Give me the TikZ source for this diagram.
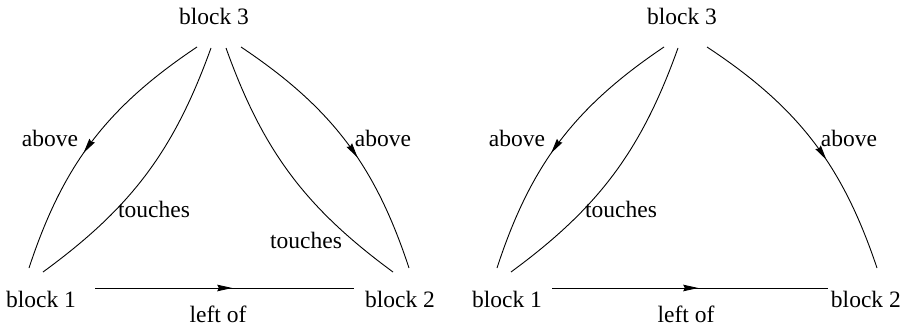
\documentclass[tikz,border=0pt]{standalone}
\usepackage{fontspec}
\setmainfont{Liberation Serif}
\usetikzlibrary{arrows.meta,decorations.markings}
\begin{document}
\begin{tikzpicture}[x=1pt,y=-1pt,
  lbl/.style={anchor=base,inner sep=0pt,font=\fontsize{23.5}{28}\selectfont},
  edge/.style={line width=0.9pt},
  midarrow/.style={postaction={decorate},decoration={markings,
     mark=at position #1 with {\arrow{Stealth[length=15pt,width=6.5pt,inset=1.5pt]}}}}]
\useasboundingbox (0,0) rectangle (901,329);
% ---------- left diagram ----------
\node[lbl] (Lb3) at (214,25) {block 3};
\node[lbl] (Lb1) at (41,307) {block 1};
\node[lbl] (Lb2) at (400,307) {block 2};
\node[lbl] (Llo) at (218,322) {left of};
\node[lbl] (LaL) at (50,146) {above};
\node[lbl] (LaR) at (383,146) {above};
\node[lbl] (LtL) at (154,217) {touches};
\node[lbl] (LtR) at (306,248) {touches};
\coordinate (L3a) at (197,47);
\coordinate (L3b) at (211,48);
\coordinate (L3c) at (226,48);
\coordinate (L3d) at (241,47);
\coordinate (L1a) at (29,268);
\coordinate (L1b) at (43,272);
\coordinate (L2a) at (393,272);
\coordinate (L2b) at (409,268);
\coordinate (L1e) at (95,288);
\coordinate (L2e) at (354,288);
\draw[edge,midarrow=0.55] (L3a) to[bend right=19] (L1a);
\draw[edge] (L3b) to[bend left=17] (L1b);
\draw[edge] (L3c) to[bend right=17] (L2a);
\draw[edge,midarrow=0.57] (L3d) to[bend left=19] (L2b);
\draw[edge,midarrow=0.53] (L1e) -- (L2e);
% ---------- right diagram ----------
\node[lbl] (Rb3) at (682,25) {block 3};
\node[lbl] (Rb1) at (507,307) {block 1};
\node[lbl,anchor=base east] (Rb2) at (901,307) {block 2};
\node[lbl] (Rlo) at (686,322) {left of};
\node[lbl] (RaL) at (517,146) {above};
\node[lbl] (RaR) at (849,146) {above};
\node[lbl] (RtL) at (621,217) {touches};
\coordinate (R3a) at (664,47);
\coordinate (R3b) at (678,48);
\coordinate (R3d) at (707,47);
\coordinate (R1a) at (497,268);
\coordinate (R1b) at (511,272);
\coordinate (R2b) at (877,268);
\coordinate (R1e) at (552,288);
\coordinate (R2e) at (828,288);
\draw[edge,midarrow=0.55] (R3a) to[bend right=19] (R1a);
\draw[edge] (R3b) to[bend left=17] (R1b);
\draw[edge,midarrow=0.58] (R3d) to[bend left=19] (R2b);
\draw[edge,midarrow=0.53] (R1e) -- (R2e);
\end{tikzpicture}
\end{document}
